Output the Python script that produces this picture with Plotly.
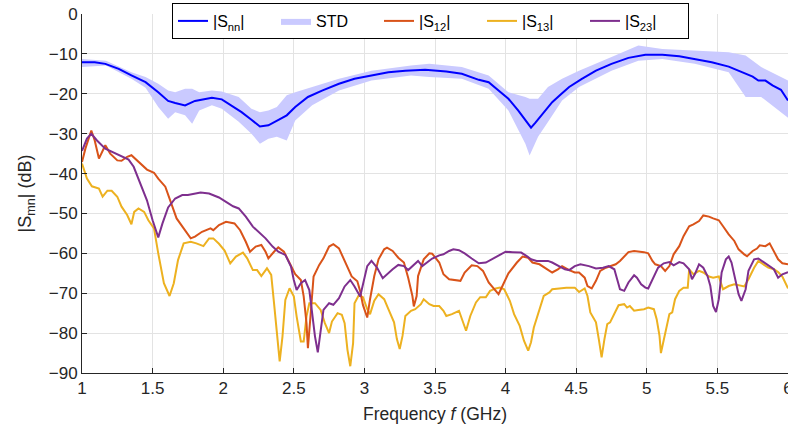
import plotly.graph_objects as go

# ---------------- data ----------------
snn_f = [1.0,1.09,1.165,1.26,1.35,1.45,1.54,1.61,1.66,1.73,1.80,1.87,1.92,1.99,2.06,2.13,2.20,2.26,2.32,2.36,2.39,2.45,2.51,2.60,2.70,2.82,2.93,3.05,3.17,3.29,3.43,3.58,3.69,3.81,3.88,3.95,4.02,4.09,4.15,4.18,4.21,4.27,4.33,4.39,4.45,4.54,4.64,4.75,4.87,4.99,5.11,5.23,5.34,5.46,5.58,5.67,5.75,5.79,5.84,5.89,5.95,6.0]
snn_db = [-12.1,-12.1,-12.5,-13.75,-15.4,-17.1,-19.6,-21.8,-22.3,-22.9,-21.8,-21.25,-21.0,-21.4,-22.9,-24.6,-26.5,-28.2,-27.9,-27.1,-26.7,-25.4,-23.3,-20.8,-19.2,-17.5,-16.25,-15.4,-14.6,-14.2,-14.0,-14.4,-15.0,-16.5,-17.1,-19.2,-21.25,-24.2,-27.1,-28.5,-27.3,-24.6,-22.1,-20.2,-18.3,-16.25,-14.2,-12.5,-11.0,-10.2,-10.2,-10.6,-11.25,-12.1,-13.2,-14.6,-15.7,-16.7,-16.7,-17.9,-19.0,-21.7]

std_f = [1.0,1.17,1.35,1.45,1.54,1.61,1.66,1.73,1.78,1.83,1.92,1.99,2.11,2.20,2.26,2.32,2.38,2.45,2.51,2.63,2.82,3.05,3.33,3.46,3.69,3.88,4.02,4.14,4.17,4.23,4.30,4.40,4.52,4.75,4.94,5.11,5.34,5.58,5.70,5.81,6.0]
std_upper = [-11.25,-11.7,-14.6,-15.8,-17.5,-19.2,-19.6,-18.75,-18.75,-19.6,-19.2,-19.4,-20.8,-23.75,-24.6,-24.2,-23.3,-20.4,-19.6,-18.3,-16.25,-14.2,-12.9,-12.5,-13.3,-15.4,-19.6,-20.8,-21.25,-21.25,-18.3,-16.25,-14.2,-10.8,-7.9,-8.75,-9.2,-9.6,-10.4,-13.3,-16.7]
std_lower = [-13.3,-12.9,-16.25,-18.5,-23.3,-26.25,-24.6,-25.4,-27.5,-24.2,-22.9,-23.75,-27.0,-30.0,-32.5,-31.25,-30.8,-31.7,-26.7,-22.9,-19.2,-16.7,-15.4,-15.8,-16.25,-18.75,-24.2,-32.5,-35.5,-30.8,-27.1,-21.7,-18.3,-14.2,-11.7,-11.25,-12.5,-14.6,-20.8,-20.8,-26.0]

s12_f = [1.0,1.024,1.066,1.09,1.12,1.165,1.2,1.25,1.28,1.32,1.35,1.40,1.46,1.51,1.54,1.59,1.625,1.67,1.72,1.77,1.80,1.85,1.91,1.93,1.97,2.02,2.08,2.12,2.16,2.19,2.23,2.27,2.30,2.32,2.36,2.39,2.43,2.48,2.51,2.55,2.57,2.59,2.60,2.62,2.64,2.68,2.71,2.75,2.78,2.82,2.86,2.91,2.95,2.97,2.99,3.01,3.02,3.04,3.07,3.10,3.14,3.16,3.20,3.24,3.28,3.31,3.34,3.35,3.37,3.38,3.42,3.46,3.48,3.53,3.56,3.60,3.64,3.68,3.71,3.76,3.80,3.84,3.88,3.92,3.95,3.98,4.02,4.08,4.12,4.16,4.19,4.24,4.29,4.33,4.37,4.40,4.45,4.49,4.52,4.56,4.58,4.61,4.64,4.67,4.71,4.74,4.78,4.81,4.84,4.87,4.91,4.94,4.98,5.01,5.04,5.06,5.10,5.13,5.16,5.19,5.23,5.26,5.30,5.33,5.37,5.40,5.44,5.47,5.51,5.54,5.58,5.62,5.65,5.69,5.71,5.75,5.78,5.80,5.84,5.87,5.90,5.93,5.96,6.0]
s12_db = [-37.1,-33.75,-29.2,-31.7,-36.25,-32.9,-35.0,-36.7,-36.8,-35.8,-35.4,-37.1,-39.0,-39.8,-41.25,-43.3,-46.7,-51.25,-53.75,-56.25,-55.8,-54.6,-53.75,-54.2,-52.9,-52.1,-52.5,-54.2,-57.1,-59.6,-58.3,-57.9,-59.6,-61.25,-59.6,-58.5,-59.6,-62.9,-65.2,-66.7,-70.8,-77.5,-83.75,-75.0,-65.8,-62.9,-61.25,-58.3,-57.7,-58.75,-61.7,-65.8,-67.0,-69.5,-73.0,-75.0,-76.1,-71.5,-65.7,-61.5,-59.0,-58.6,-59.4,-61.1,-62.3,-66.1,-70.7,-73.3,-70.7,-65.7,-61.5,-60.0,-60.1,-62.3,-65.25,-66.5,-66.7,-66.9,-64.8,-63.0,-63.2,-64.4,-67.3,-69.0,-70.25,-68.0,-65.0,-62.3,-60.8,-61.1,-62.3,-62.75,-64.0,-64.8,-64.0,-63.2,-64.2,-64.8,-64.8,-66.1,-68.2,-68.8,-66.9,-64.4,-63.6,-63.2,-62.75,-61.9,-60.7,-59.7,-59.4,-59.5,-59.7,-60.0,-61.9,-62.75,-63.2,-64.4,-63.2,-60.25,-58.2,-55.7,-53.2,-52.75,-51.9,-50.5,-50.8,-51.25,-51.7,-53.2,-55.25,-56.9,-59.0,-60.25,-60.7,-59.4,-58.8,-58.0,-58.2,-57.5,-59.4,-61.5,-62.5,-62.75]

s13_f = [1.0,1.035,1.07,1.12,1.146,1.18,1.21,1.25,1.28,1.32,1.35,1.37,1.40,1.44,1.47,1.51,1.54,1.58,1.62,1.65,1.68,1.72,1.77,1.81,1.86,1.9,1.93,1.97,2.01,2.05,2.09,2.14,2.17,2.21,2.24,2.27,2.31,2.34,2.36,2.38,2.40,2.42,2.44,2.47,2.50,2.52,2.55,2.57,2.59,2.61,2.65,2.69,2.72,2.75,2.77,2.81,2.84,2.86,2.88,2.90,2.92,2.93,2.96,2.99,3.02,3.04,3.07,3.10,3.14,3.17,3.21,3.23,3.25,3.27,3.29,3.33,3.36,3.40,3.42,3.46,3.49,3.53,3.56,3.58,3.62,3.67,3.69,3.72,3.75,3.79,3.82,3.86,3.89,3.93,3.96,3.99,4.03,4.06,4.10,4.13,4.16,4.18,4.20,4.24,4.27,4.31,4.33,4.38,4.43,4.49,4.52,4.56,4.58,4.60,4.64,4.66,4.68,4.70,4.72,4.74,4.77,4.80,4.84,4.86,4.88,4.91,4.94,4.98,5.01,5.05,5.07,5.09,5.10,5.13,5.16,5.18,5.20,5.23,5.26,5.29,5.30,5.33,5.37,5.40,5.44,5.47,5.51,5.54,5.58,5.62,5.65,5.69,5.72,5.76,5.79,5.83,5.86,5.90,5.93,5.96,6.0]
s13_db = [-37.5,-41.25,-43.2,-43.75,-45.8,-44.3,-44.3,-45.8,-48.3,-50.4,-52.7,-49.6,-48.75,-49.6,-51.7,-53.75,-60.0,-67.5,-70.7,-67.5,-61.7,-57.5,-57.1,-57.5,-58.2,-56.25,-56.25,-57.6,-59.3,-62.5,-60.8,-59.8,-61.25,-64.2,-64.2,-65.7,-63.75,-65.4,-72.5,-80.8,-87.1,-80.8,-71.7,-68.75,-70.8,-75.8,-82.1,-82.1,-75.8,-72.5,-72.5,-74.2,-77.5,-80.0,-77.1,-75.0,-75.4,-77.5,-84.2,-88.3,-82.5,-72.5,-70.5,-71.0,-74.0,-75.25,-71.9,-70.25,-71.5,-74.0,-77.3,-81.5,-84.0,-80.7,-75.7,-74.4,-74.0,-72.75,-71.5,-72.75,-73.2,-73.2,-74.4,-75.7,-75.25,-74.4,-76.5,-79.4,-75.7,-72.3,-71.0,-71.0,-69.4,-68.8,-68.6,-69.0,-71.9,-75.25,-78.2,-81.9,-84.4,-82.3,-78.6,-74.0,-70.7,-69.8,-69.0,-68.8,-68.6,-68.6,-69.7,-68.8,-70.7,-74.8,-77.3,-81.5,-86.1,-81.5,-77.75,-77.3,-75.25,-73.0,-72.75,-73.6,-73.2,-74.4,-74.2,-74.0,-73.6,-74.0,-76.5,-80.7,-85.0,-79.8,-75.25,-74.8,-71.5,-69.4,-68.6,-68.6,-64.0,-65.25,-64.4,-64.8,-65.8,-66.1,-65.8,-69.0,-68.2,-67.75,-68.0,-68.3,-66.5,-63.6,-61.9,-62.75,-63.6,-64.0,-64.7,-65.8,-68.8]

s23_f = [1.0,1.035,1.066,1.106,1.165,1.236,1.28,1.33,1.366,1.41,1.46,1.5,1.54,1.57,1.61,1.66,1.71,1.75,1.84,1.9,1.97,2.02,2.07,2.11,2.16,2.21,2.25,2.30,2.35,2.39,2.44,2.48,2.50,2.52,2.55,2.58,2.61,2.63,2.65,2.67,2.69,2.71,2.75,2.78,2.82,2.86,2.90,2.93,2.97,2.99,3.02,3.05,3.09,3.13,3.16,3.20,3.24,3.28,3.31,3.35,3.38,3.41,3.44,3.48,3.53,3.56,3.60,3.63,3.67,3.71,3.76,3.81,3.86,3.90,3.95,4.0,4.05,4.11,4.15,4.18,4.22,4.26,4.30,4.33,4.38,4.42,4.45,4.49,4.53,4.59,4.64,4.69,4.73,4.77,4.79,4.81,4.84,4.87,4.91,4.93,4.96,4.99,5.01,5.05,5.08,5.12,5.16,5.19,5.23,5.26,5.30,5.32,5.34,5.37,5.40,5.43,5.45,5.47,5.49,5.51,5.53,5.56,5.58,5.60,5.63,5.65,5.67,5.70,5.72,5.76,5.79,5.83,5.86,5.90,5.93,5.96,6.0]
s23_db = [-34.3,-31.25,-30.0,-31.7,-33.75,-35.0,-35.7,-36.5,-38.3,-42.1,-46.7,-51.7,-56.0,-52.5,-48.5,-46.25,-45.4,-45.4,-44.75,-45.0,-46.0,-47.1,-48.2,-48.75,-50.8,-53.3,-54.6,-56.25,-58.3,-59.6,-60.4,-63.3,-66.7,-69.2,-67.5,-66.7,-69.2,-75.0,-80.8,-84.8,-79.2,-74.2,-72.5,-72.9,-71.25,-68.3,-66.7,-68.3,-70.8,-67.5,-63.2,-61.9,-63.6,-66.25,-65.25,-64.0,-62.9,-63.2,-64.2,-62.75,-61.9,-63.2,-62.3,-61.3,-60.5,-60.25,-59.4,-59.0,-59.2,-60.0,-61.3,-62.5,-62.3,-61.5,-60.5,-59.6,-59.7,-59.8,-60.7,-61.5,-61.9,-61.9,-61.9,-62.3,-63.2,-64.0,-64.2,-63.2,-62.75,-63.2,-63.8,-63.6,-63.2,-64.0,-66.5,-69.0,-69.4,-67.3,-65.5,-66.1,-67.75,-68.6,-68.8,-65.7,-63.6,-62.5,-62.2,-63.0,-62.2,-62.5,-64.0,-66.5,-65.25,-62.75,-63.6,-65.7,-68.2,-73.2,-74.7,-71.5,-64.8,-61.5,-60.8,-62.3,-67.3,-70.25,-71.9,-69.0,-64.4,-61.5,-61.3,-62.3,-63.2,-64.0,-66.1,-65.25,-64.7]

x_ticks = [1, 1.5, 2, 2.5, 3, 3.5, 4, 4.5, 5, 5.5, 6]
x_tick_text = ["1", "1.5", "2", "2.5", "3", "3.5", "4", "4.5", "5", "5.5", "6"]
y_ticks = [0, -10, -20, -30, -40, -50, -60, -70, -80, -90]
y_tick_text = ["0", "\u221210", "\u221220", "\u221230", "\u221240", "\u221250", "\u221260", "\u221270", "\u221280", "\u221290"]

for a, b in [(snn_f, snn_db), (std_f, std_upper), (std_f, std_lower),
             (s12_f, s12_db), (s13_f, s13_db), (s23_f, s23_db)]:
    assert len(a) == len(b), (len(a), len(b))

# ---------------- styles ----------------
C_SNN = "#0000FF"
C_STD = "rgba(202,202,255,1)"
C_S12 = "#D95319"
C_S13 = "#EDB120"
C_S23 = "#7E2F8E"
FONT = "Liberation Sans, Arial, sans-serif"
AX = "#262626"

fig = go.Figure()
fig.add_trace(go.Scatter(x=std_f, y=std_lower, mode="lines", line=dict(width=0, color=C_STD),
                         showlegend=False, hoverinfo="skip"))
fig.add_trace(go.Scatter(x=std_f, y=std_upper, mode="lines", line=dict(width=0, color=C_STD),
                         fill="tonexty", fillcolor=C_STD, name="STD", legendrank=2))
fig.add_trace(go.Scatter(x=s13_f, y=s13_db, mode="lines", line=dict(width=2, color=C_S13),
                         name="|S<sub>13</sub>|", legendrank=4))
fig.add_trace(go.Scatter(x=s12_f, y=s12_db, mode="lines", line=dict(width=2, color=C_S12),
                         name="|S<sub>12</sub>|", legendrank=3))
fig.add_trace(go.Scatter(x=s23_f, y=s23_db, mode="lines", line=dict(width=2, color=C_S23),
                         name="|S<sub>23</sub>|", legendrank=5))
fig.add_trace(go.Scatter(x=snn_f, y=snn_db, mode="lines", line=dict(width=2, color=C_SNN),
                         name="|S<sub>nn</sub>|", legendrank=1))

plot_w = 788 - 82
plot_h = 373 - 14
fig.update_layout(
    width=788, height=434,
    margin=dict(l=82, r=0, t=14, b=61, autoexpand=False),
    paper_bgcolor="white", plot_bgcolor="white",
    font=dict(family=FONT, size=17, color=AX),
    legend=dict(orientation="h", x=(172 - 82) / plot_w, xanchor="left",
                y=1 + 11 / plot_h, yanchor="top",
                bgcolor="white", bordercolor="#000000", borderwidth=1,
                font=dict(size=16, color="#000000"),
                entrywidth=58, entrywidthmode="pixels",
                traceorder="normal", itemclick=False),
    xaxis=dict(range=[1, 6], tickvals=x_ticks, ticktext=x_tick_text,
               showgrid=True, gridcolor="#E3E3E3", gridwidth=1,
               showline=True, linecolor=AX, linewidth=1, mirror=False,
               ticks="inside", ticklen=5, tickcolor=AX, ticklabeloverflow="allow",
               tickfont=dict(size=17, color=AX), zeroline=False, automargin=False,
               title=dict(text="Frequency <i>f</i> (GHz)", font=dict(size=17.5, color=AX), standoff=10)),
    yaxis=dict(range=[-90, 0], tickvals=y_ticks, ticktext=y_tick_text,
               showgrid=True, gridcolor="#E3E3E3", gridwidth=1,
               showline=True, linecolor=AX, linewidth=1, mirror=False,
               ticks="inside", ticklen=5, tickcolor=AX, ticklabeloverflow="allow",
               tickfont=dict(size=17, color=AX), zeroline=False, automargin=False,
               title=dict(text="|S<sub>mn</sub>| (dB)", font=dict(size=18, color=AX), standoff=12)),
)

fig.write_html(
    "out.html",
    config={"displayModeBar": False},
    post_script="document.body.style.margin='0';document.body.style.overflow='hidden';",
)
